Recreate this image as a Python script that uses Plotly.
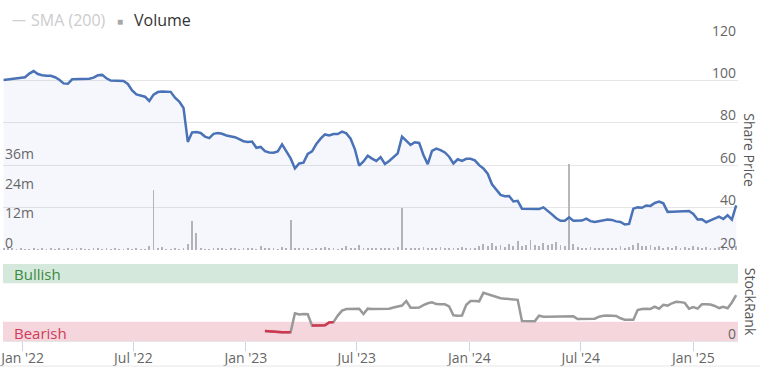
import pandas as pd
import plotly.graph_objects as go

# ---- data (weekly samples) ----
dates = pd.date_range("2021-12-01", periods=172, freq="7D")

price = [
    100.2, 100.4, 100.6, 100.8, 101.0, 101.5, 103.2, 104.4, 103.0, 102.4,
    102.2, 102.2, 101.5, 100.3, 98.6, 98.4, 100.5, 100.6, 100.7, 100.6,
    100.8, 101.3, 102.4, 102.6, 101.0, 99.9, 99.9, 99.9, 99.7, 98.3,
    95.3, 93.4, 92.8, 92.3, 90.3, 93.3, 94.5, 94.8, 94.7, 94.6,
    91.8, 90.0, 87.0, 71.0, 75.5, 75.6, 75.2, 73.5, 72.8, 74.8,
    75.2, 74.8, 74.0, 73.6, 73.2, 72.3, 71.3, 71.0, 71.2, 68.2,
    68.6, 66.6, 66.0, 65.9, 66.5, 69.8, 66.2, 63.2, 58.5, 60.8,
    61.2, 65.3, 66.5, 70.0, 72.5, 74.5, 74.0, 74.7, 74.7, 75.8,
    75.0, 72.5, 67.5, 59.8, 61.8, 64.5, 63.1, 62.0, 63.8, 60.6,
    62.0, 64.0, 65.6, 73.5, 71.5, 69.6, 70.8, 70.5, 64.8, 60.5,
    66.8, 67.8, 67.1, 66.0, 64.0, 60.8, 62.8, 62.0, 63.0, 63.0,
    62.3, 60.0, 58.5, 56.0, 51.0, 48.3, 46.0, 45.4, 45.5, 42.9,
    43.2, 39.5, 39.4, 39.3, 39.2, 39.3, 40.1, 38.6, 36.8, 35.0,
    33.8, 33.8, 35.4, 33.8, 33.8, 33.9, 34.8, 33.6, 33.2, 33.7,
    34.0, 34.4, 34.2, 33.5, 33.2, 32.0, 32.3, 39.5, 40.1, 39.9,
    41.0, 40.8, 42.2, 42.8, 42.0, 38.0, 38.1, 38.1, 38.1, 38.1,
    38.4, 37.0, 34.4, 34.5, 33.1, 34.0, 34.8, 35.7, 34.6, 36.4,
    34.3, 41.0,
]

volume_m = [
    1.0, 0.5, 0.8, 0.3, 0.6, 0.4, 0.3, 0.7, 0.2, 0.5,
    0.3, 0.6, 0.4, 0.8, 0.3, 0.5, 0.2, 0.6, 0.9, 0.4,
    0.3, 0.7, 0.5, 0.4, 0.8, 0.3, 0.6, 0.2, 0.4, 0.5,
    0.3, 0.6, 0.4, 0.3, 1.8, 24.4, 0.5, 1.2, 0.4, 0.3,
    0.5, 0.4, 0.6, 2.5, 11.9, 7.0, 0.9, 0.4, 0.3, 0.6,
    0.5, 0.8, 0.4, 1.0, 0.6, 0.3, 0.7, 0.5, 0.9, 0.4,
    1.5, 0.6, 0.5, 0.8, 0.4, 1.2, 0.7, 12.3, 0.6, 0.9,
    0.5, 1.0, 0.4, 0.7, 0.6, 1.1, 0.5, 0.8, 0.4, 0.6,
    1.5, 0.7, 0.5, 2.0, 0.8, 0.6, 0.9, 0.5, 0.7, 1.0,
    0.6, 0.8, 1.2, 17.0, 1.0, 0.7, 0.9, 0.6, 1.1, 0.8,
    1.0, 0.7, 1.2, 0.9, 0.6, 1.0, 0.8, 1.3, 0.7, 1.0,
    0.9, 1.5, 2.5, 1.8, 2.8, 1.6, 2.0, 1.2, 2.4, 1.5,
    3.5, 1.8, 2.2, 4.0, 2.0, 1.6, 3.0, 1.9, 2.6, 3.4,
    2.0, 1.5, 35.0, 2.5, 1.4, 1.0, 0.8, 1.2, 0.7, 0.9,
    0.6, 0.8, 1.0, 0.7, 1.5, 0.9, 1.2, 2.2, 3.0, 1.8,
    1.5, 2.0, 1.2, 1.8, 1.0, 1.4, 0.8, 1.6, 1.0, 1.2,
    0.9, 1.5, 1.1, 0.8, 1.3, 1.0, 0.7, 1.2, 1.5, 0.9,
    1.1, 1.8,
]

stockrank = [None] * 61 + [
    13, 12.5, 12, 12, 11.5, 11.5, 11.3, 36, 34.5, 35,
    34.7, 20, 20, 19.9, 20.5, 24.2, 24.5, 33, 39.5, 41.6,
    41.8, 41.6, 42, 35, 42, 41.6, 41.6, 41.8, 41.4, 42,
    43.5, 44.6, 46, 52, 43.3, 43.3, 43.5, 46.5, 49, 50.2,
    48, 47.6, 47.6, 45, 33.5, 32.9, 33.2, 47, 52, 52,
    51.5, 62.5, 60.5, 58.5, 56.5, 55.5, 55, 54.5, 54, 53.5,
    26, 25.8, 25.8, 25.8, 32.9, 31.6, 31.6, 31.6, 31.8, 31.6,
    31.8, 32.5, 32, 28.6, 28.6, 28.6, 28.8, 29, 31.6, 32.9,
    33, 32.9, 32.5, 29.5, 27.7, 27.7, 27.6, 40.3, 41.6, 41.8,
    41.6, 44.5, 42, 47, 46, 49, 51, 50.5, 49.5, 42,
    44, 42, 47.6, 47.6, 47.4, 45.5, 42.8, 44.5, 42.5, 50,
    59.5,
]

bearish_max = 25
bullish_min = 75

x_ticks = ["2022-01-01", "2022-07-01", "2023-01-01", "2023-07-01",
           "2024-01-01", "2024-07-01", "2025-01-01"]
x_tick_text = ["Jan '22", "Jul '22", "Jan '23", "Jul '23",
               "Jan '24", "Jul '24", "Jan '25"]
price_ticks = [20, 40, 60, 80, 100, 120]
vol_ticks = [0, 12e6, 24e6, 36e6]
vol_tick_text = ["0", "12m", "24m", "36m"]
rank_ticks = [0]

# ---- figure ----
FONT = "Open Sans"
W, H = 760, 367
ML, MR, MT, MB = 3, 22, 38, 26
ph = H - MT - MB
pw = W - ML - MR
price_dom = [(341 - 250) / ph, 1]
rank_dom = [0, (341 - 264) / ph]
x_range = ["2021-11-30", "2025-03-15"]
LABEL_COLOR = "#666666"

fig = go.Figure()

fig.add_trace(go.Bar(
    x=dates, y=[v * 1e6 for v in volume_m], xaxis="x", yaxis="y",
    marker=dict(color="#b8b8b8", line=dict(width=0)),
    width=1.4 * 86400000, showlegend=False, hoverinfo="skip",
))

fig.add_trace(go.Scatter(
    x=dates, y=price, xaxis="x", yaxis="y2", mode="lines",
    line=dict(color="#4a72b6", width=2.5),
    fill="tozeroy", fillcolor="rgba(90,110,210,0.055)",
    showlegend=False, hoverinfo="skip",
))

fig.add_trace(go.Scatter(
    x=dates, y=stockrank, xaxis="x2", yaxis="y3", mode="lines",
    line=dict(color="#999999", width=2.5), showlegend=False, hoverinfo="skip",
))
red = [v if (v is not None and v < bearish_max) else None for v in stockrank]
fig.add_trace(go.Scatter(
    x=dates, y=red, xaxis="x2", yaxis="y3", mode="lines",
    line=dict(color="#d0364f", width=2.5), showlegend=False, hoverinfo="skip",
))

tickfont = dict(family=FONT, size=14, color=LABEL_COLOR)

annotations = []
# axis tick labels sitting just above their grid lines
for v in price_ticks:
    annotations.append(dict(text=str(v), xref="paper", yref="y2", x=1, y=v,
                            xanchor="right", yanchor="middle", yshift=8,
                            showarrow=False, font=tickfont))
for v, t in zip(vol_ticks, vol_tick_text):
    annotations.append(dict(text=t, xref="paper", yref="y", x=0, y=v,
                            xanchor="left", yanchor="middle", yshift=8,
                            showarrow=False, font=tickfont))
for v in rank_ticks:
    annotations.append(dict(text=str(v), xref="paper", yref="y3", x=1, y=v,
                            xanchor="right", yanchor="middle", yshift=8,
                            showarrow=False, font=tickfont))

legend_font = dict(family=FONT, size=16)
annotations += [
    dict(text="Bullish", xref="paper", yref="y3", x=0.012, y=87.5,
         xanchor="left", yanchor="middle", showarrow=False,
         font=dict(family=FONT, size=15, color="#3b8a3e")),
    dict(text="Bearish", xref="paper", yref="y3", x=0.012, y=11,
         xanchor="left", yanchor="middle", showarrow=False,
         font=dict(family=FONT, size=15, color="#d13b5a")),
    dict(text="Share Price", xref="paper", yref="y2", x=1.0 + 12 / pw,
         y=67, xanchor="center", yanchor="middle", textangle=90,
         showarrow=False, font=dict(family=FONT, size=14, color="#555555")),
    dict(text="StockRank", xref="paper", yref="y3", x=1.0 + 12 / pw,
         y=51, xanchor="center", yanchor="middle", textangle=90,
         showarrow=False, font=dict(family=FONT, size=14, color="#555555")),
    dict(text="—", xref="paper", yref="paper",
         x=(10 - ML) / pw, y=1 + 18 / ph, xanchor="left",
         yanchor="middle", showarrow=False,
         font=dict(legend_font, size=14, color="#d0d0d0")),
    dict(text="SMA (200)", xref="paper", yref="paper",
         x=(29 - ML) / pw, y=1 + 18 / ph, xanchor="left",
         yanchor="middle", showarrow=False,
         font=dict(legend_font, color="#cccccc")),
    dict(text="■", xref="paper", yref="paper",
         x=(115 - ML) / pw, y=1 + 17 / ph, xanchor="left",
         yanchor="middle", showarrow=False,
         font=dict(family=FONT, size=10, color="#a8a8a8")),
    dict(text="Volume", xref="paper", yref="paper",
         x=(132 - ML) / pw, y=1 + 18 / ph, xanchor="left",
         yanchor="middle", showarrow=False,
         font=dict(legend_font, color="#333333")),
]

fig.update_layout(
    template="none",
    width=W, height=H,
    margin=dict(l=ML, r=MR, t=MT, b=MB, autoexpand=False),
    paper_bgcolor="white", plot_bgcolor="white",
    bargap=0,
    font=dict(family=FONT),
    xaxis=dict(domain=[0, 1], anchor="y", range=x_range, type="date",
               showticklabels=False, showgrid=False, zeroline=False,
               showline=False, ticks="", matches="x2", automargin=False),
    xaxis2=dict(domain=[0, 1], anchor="y3", range=x_range, type="date",
                tickvals=x_ticks, ticktext=x_tick_text, ticks="outside",
                ticklen=9, tickwidth=1, tickcolor="#ccd6eb", tickfont=tickfont,
                ticklabelstandoff=-5, ticklabeloverflow="allow",
                showgrid=False, zeroline=False, showline=True,
                linecolor="#e6e6e6", automargin=False),
    yaxis=dict(domain=price_dom, anchor="x", side="left", range=[0, 86.5e6],
               tickvals=vol_ticks, showticklabels=False, ticks="",
               showgrid=False, zeroline=False, showline=False,
               automargin=False),
    yaxis2=dict(overlaying="y", anchor="x", side="right", range=[20, 120],
                tickvals=price_ticks, showticklabels=False, ticks="",
                showgrid=True, gridcolor="#e6e6e6", gridwidth=1,
                zeroline=False, showline=False, automargin=False),
    yaxis3=dict(domain=rank_dom, anchor="x2", side="right", range=[0, 100],
                tickvals=[0, 100], showticklabels=False, ticks="",
                showgrid=True, gridcolor="#e6e6e6", zeroline=False,
                showline=False, automargin=False),
    shapes=[
        dict(type="rect", xref="x2 domain", yref="y3", x0=0, x1=1,
             y0=bullish_min, y1=100, fillcolor="#d5e8dc", line=dict(width=0),
             layer="below"),
        dict(type="rect", xref="x2 domain", yref="y3", x0=0, x1=1,
             y0=0, y1=bearish_max, fillcolor="#f5d6dc", line=dict(width=0),
             layer="below"),
        dict(type="line", xref="paper", yref="paper", x0=-0.01, x1=1.04,
             y0=-MB / ph + 1 / ph, y1=-MB / ph + 1 / ph,
             line=dict(color="#e6e6e6", width=1)),
    ],
    annotations=annotations,
)

fig.write_html(
    "out.html",
    config={"displayModeBar": False},
    post_script="document.body.style.margin='0';document.body.style.overflow='hidden';",
)
